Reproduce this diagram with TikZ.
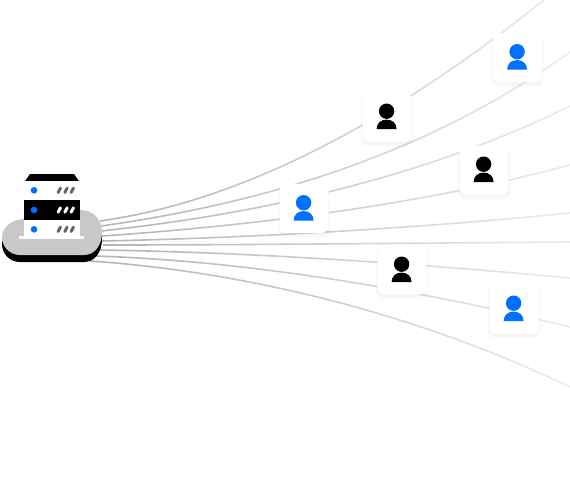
\documentclass[tikz,border=0pt]{standalone}
\usepackage{tikz}
\usetikzlibrary{fadings,shadows,positioning}

\definecolor{userblue}{HTML}{0070FF}
\definecolor{cloudgray}{HTML}{C8C8C8}
\definecolor{slotgray}{HTML}{5F6670}
\definecolor{linegray}{HTML}{B4B4B4}

\tikzfading[name=linefade, left color=transparent!100, right color=transparent!25]

\tikzset{
  usercard/.style={fill=white, rounded corners=7pt, minimum width=49pt, minimum height=49pt, inner sep=0pt,
    general shadow={fill=black, opacity=.008, shadow scale=1.10, shadow yshift=-3pt},
    general shadow={fill=black, opacity=.010, shadow scale=1.06, shadow yshift=-3pt},
    general shadow={fill=black, opacity=.014, shadow scale=1.02, shadow yshift=-2pt}},
  link/.style={draw=linegray, line width=1.6pt},
  slot/.style={line width=3pt, line cap=round},
  pics/person/.style={code={
    \fill (-0.4,-5.8) circle (7.7pt);
    \fill (-10.4,12.2) .. controls (-10.4,6) and (-5.9,2.6) .. (-0.4,2.6)
      .. controls (5.1,2.6) and (9.6,6) .. (9.6,12.2) -- cycle;
  }}
}

\begin{document}
\begin{tikzpicture}[x=1pt,y=-1pt]
\useasboundingbox (0,0) rectangle (570,485);

% links
\foreach \i/\sx/\sy/\ax/\ay/\bx/\by/\ex/\ey in {
  1/100/221/250/200/400/115/544/0,
  2/101/226/250/205/420/160/570/52,
  3/101/231/250/215/420/180/570/106,
  4/102/236/250/226/420/205/570/165,
  5/102/241/250/238/420/228/570/213,
  6/103/245/250/245/420/243/570/242,
  7/98/250/250/252/420/264/570/278,
  8/95/256/250/261/420/290/570/327,
  9/90/261/250/272/420/315/570/387}
{
  \coordinate (from\i) at (\sx,\sy);
  \coordinate (to\i) at (\ex,\ey);
  \draw[link] (from\i) .. controls (\ax,\ay) and (\bx,\by) .. (to\i);
}
\fill[white, path fading=linefade] (100,-5) rectangle (575,400);

% users
\foreach \n/\px/\py/\col in {
  userA/517.5/57.5/userblue,
  userB/387/117/black,
  userC/484/170/black,
  userD/304/208.5/userblue,
  userE/402/270/black,
  userF/514/309/userblue}
{
  \node[usercard] (\n) at (\px,\py) {};
  \pic[color=\col] at (\n) {person};
}

% cloud
\fill[black] (24,226) .. controls (10,226) and (2,236) .. (2,244)
  .. controls (2,254) and (10,262) .. (20,262) -- (84,262)
  .. controls (95,262) and (102,252) .. (102,239)
  .. controls (102,226) and (93,217) .. (80,217) -- cycle;
\fill[cloudgray] (24,219) .. controls (10,219) and (2,229) .. (2,237)
  .. controls (2,247) and (10,255) .. (20,255) -- (84,255)
  .. controls (95,255) and (102,245) .. (102,232)
  .. controls (102,219) and (93,210) .. (80,210) -- cycle;

% server
\fill[black] (25,181) -- (30,174) -- (74,174) -- (79,181) -- cycle;
\fill[white] (24.3,181) rectangle (80,200);
\fill[black] (24.3,200) rectangle (80,219.5);
\fill[white] (24.3,219.5) rectangle (80,236);
\fill[white] (19.3,236) rectangle (84.3,239.3);
\foreach \ry/\col in {190.3/slotgray,210/white,229.3/slotgray}
{
  \fill[userblue] (34,\ry) circle (3.3pt);
  \foreach \rx in {59.3,66,72.3}
    \draw[slot, draw=\col] (\rx+1.2,\ry-2.2) -- (\rx-1.2,\ry+2.2);
}
\end{tikzpicture}
\end{document}
